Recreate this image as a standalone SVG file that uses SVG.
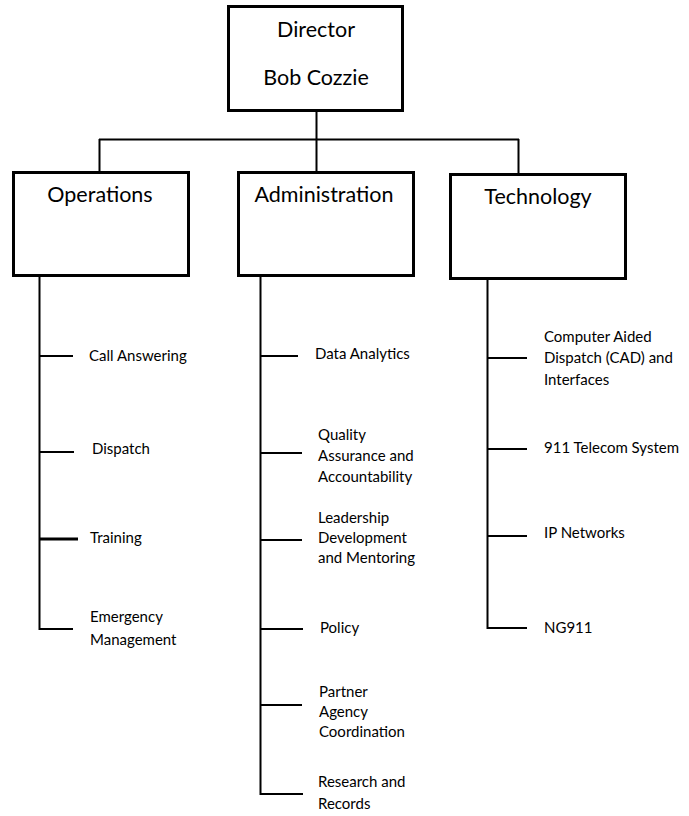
<svg xmlns="http://www.w3.org/2000/svg" width="689" height="816" viewBox="0 0 689 816">
<style>
.box{fill:#fff;stroke:#000;stroke-width:3}
.ln{stroke:#000;stroke-width:2;fill:none}
.title{font-family:Lato,"Liberation Sans",sans-serif;font-size:21.5px;fill:#000;text-anchor:middle}
.item{font-family:Lato,"Liberation Sans",sans-serif;font-size:15px;fill:#000}
</style>
<rect width="689" height="816" fill="#fff"/>
<g id="connectors">
<path class="ln" d="M316.5 112V171M99 139.5H519M99.5 139V171M518.5 139V173"/>
<path class="ln" d="M39.5 277V630M39 356H73M39 452H74M39 629H73"/>
<path class="ln" style="stroke-width:3" d="M39 539H78"/>
<path class="ln" d="M260.5 277V795M260 356H298M260 453H302M260 540H302M260 629H303M260 705H302M260 794H303"/>
<path class="ln" d="M487.5 280V629M487 358H527M487 449H527M487 536H527M487 628H527"/>
</g>
<g id="director">
<rect class="box" x="228.5" y="6.5" width="174" height="104"/>
<text class="title" x="316" y="37">Director</text>
<text class="title" x="316" y="85">Bob Cozzie</text>
</g>
<g id="operations">
<rect class="box" x="13.5" y="172.5" width="175" height="103"/>
<text class="title" x="100" y="202">Operations</text>
</g>
<g id="administration">
<rect class="box" x="238.5" y="172.5" width="175" height="103"/>
<text class="title" x="324" y="202">Administration</text>
</g>
<g id="technology">
<rect class="box" x="450.5" y="174.5" width="175" height="104"/>
<text class="title" x="538" y="204">Technology</text>
</g>
<g id="call-answering"><text class="item" x="89" y="361">Call Answering</text></g>
<g id="dispatch"><text class="item" x="92" y="454">Dispatch</text></g>
<g id="training"><text class="item" x="90" y="543">Training</text></g>
<g id="emergency-management"><text class="item" x="90" y="622">Emergency</text><text class="item" x="90" y="645">Management</text></g>
<g id="data-analytics"><text class="item" x="315" y="359">Data Analytics</text></g>
<g id="quality"><text class="item" x="318" y="440">Quality</text><text class="item" x="318" y="461">Assurance and</text><text class="item" x="318" y="482">Accountability</text></g>
<g id="leadership"><text class="item" x="318" y="523">Leadership</text><text class="item" x="318" y="543">Development</text><text class="item" x="318" y="563">and Mentoring</text></g>
<g id="policy"><text class="item" x="320" y="633">Policy</text></g>
<g id="partner"><text class="item" x="319" y="697">Partner</text><text class="item" x="319" y="717">Agency</text><text class="item" x="319" y="737">Coordination</text></g>
<g id="research"><text class="item" x="318" y="787">Research and</text><text class="item" x="318" y="809">Records</text></g>
<g id="cad"><text class="item" x="544" y="342">Computer Aided</text><text class="item" x="544" y="363">Dispatch (CAD) and</text><text class="item" x="544" y="385">Interfaces</text></g>
<g id="telecom"><text class="item" x="544" y="453">911 Telecom System</text></g>
<g id="ip-networks"><text class="item" x="544" y="538">IP Networks</text></g>
<g id="ng911"><text class="item" x="544" y="633">NG911</text></g>
</svg>
